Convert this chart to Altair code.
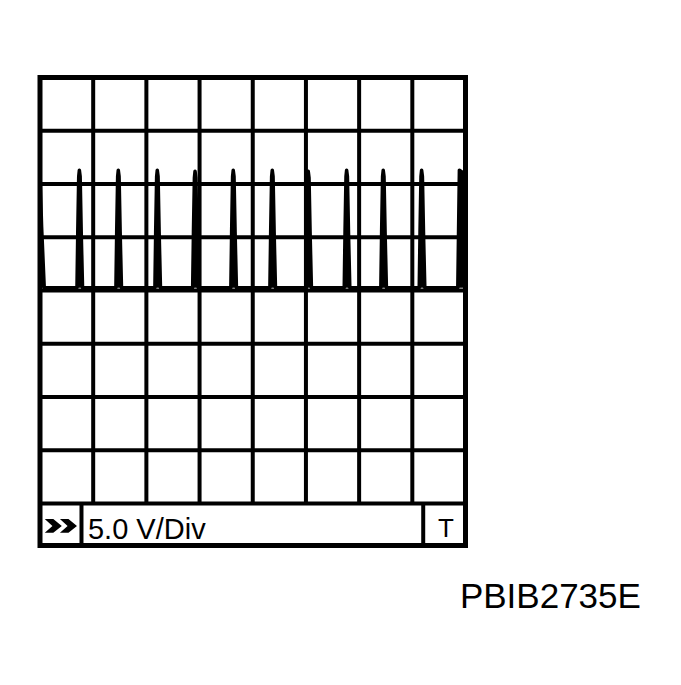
import altair as alt
import pandas as pd

# ---- data (x in time divisions, y in volts, 5 V/div) ----
x_divisions = [1, 2, 3, 4, 5, 6, 7]
y_levels = [-20, -15, -10, -5, 0, 5, 10, 15, 20]
spike_times = [0.74, 1.472, 2.205, 2.915, 3.633, 4.367, 5.043, 5.765, 6.453, 7.175]
spike_peaks = [11.3, 11.3, 11.3, 11.2, 11.3, 11.3, 11.2, 11.3, 11.3, 11.3]
final_rise_time = 7.895
final_peak = 11.3
start_level = 11.0
baseline_v = 0.25

strip_bottom = -23.95          # bottom of the label strip (in volts units)
left_box_edge = 0.78           # ">>" box divider (divisions)
right_box_edge = 7.205         # "T" box divider (divisions)

label_vdiv = "5.0 V/Div"
label_code = "PBIB2735E"

# ---- build trace table ----
rows = [(0.0, start_level), (0.03, 6.0), (0.08, baseline_v)]
for t, p in zip(spike_times, spike_peaks):
    rows += [(t - 0.045, baseline_v), (t - 0.03, 5.5), (t - 0.012, p - 0.6), (t, p),
             (t + 0.015, p - 0.6), (t + 0.035, 5.5), (t + 0.06, baseline_v)]
rows += [(final_rise_time - 0.04, baseline_v), (final_rise_time - 0.01, final_peak),
         (8.0, final_peak - 0.4)]
trace = pd.DataFrame(rows, columns=["t", "v"])
trace["base"] = baseline_v

XS = alt.Scale(domain=[0, 8], nice=False, zero=False)
YS = alt.Scale(domain=[strip_bottom, 20], nice=False, zero=False)


def X(f):
    return alt.X(f, type="quantitative", scale=XS, axis=None)


def Y(f):
    return alt.Y(f, type="quantitative", scale=YS, axis=None)


vgrid = pd.DataFrame({"x": x_divisions, "y0": -20, "y1": 20})
hgrid = pd.DataFrame({"y": y_levels, "x0": 0, "x1": 8})
frame = pd.DataFrame({"x0": [0], "x1": [8], "y0": [strip_bottom], "y1": [20]})
dividers = pd.DataFrame({"x": [left_box_edge, right_box_edge], "y0": strip_bottom, "y1": -20})

vlines = alt.Chart(vgrid).mark_rule(color="black", strokeWidth=4).encode(
    x=X("x"), y=Y("y0"), y2="y1")
hlines = alt.Chart(hgrid).mark_rule(color="black", strokeWidth=4).encode(
    y=Y("y"), x=X("x0"), x2="x1")
divs = alt.Chart(dividers).mark_rule(color="black", strokeWidth=4).encode(
    x=X("x"), y=Y("y0"), y2="y1")
box = alt.Chart(frame).mark_rect(fillOpacity=0, stroke="black", strokeWidth=5).encode(
    x=X("x0"), x2="x1", y=Y("y0"), y2="y1")

area = alt.Chart(trace).mark_area(color="black", opacity=1).encode(
    x=X("t"), y=Y("v"), y2=alt.Y2("base"))
line = alt.Chart(trace).mark_line(color="black", strokeWidth=3.5, strokeJoin="round").encode(
    x=X("t"), y=Y("v"))

chev = pd.DataFrame({"t": [0.25, 0.535], "v": [-22.11, -22.11]})
chevrons = alt.Chart(chev).mark_point(
    shape="M-1,-0.8 L0,-0.8 L1,0 L0,0.8 L-1,0.8 L-0.1,0 Z",
    filled=True, color="black", opacity=1, size=290, strokeWidth=0
).encode(x=X("t"), y=Y("v"))

texts = pd.DataFrame({
    "t": [0.902, 7.63, 7.895],
    "v": [-23.33, -23.15, -29.81],
    "s": [label_vdiv, "T", label_code],
    "kind": ["vdiv", "T", "code"],
})

vdiv = alt.Chart(texts[texts.kind == "vdiv"]).mark_text(
    font="Liberation Sans", fontSize=29, align="left", baseline="alphabetic", color="black"
).encode(x=X("t"), y=Y("v"), text="s")
tlab = alt.Chart(texts[texts.kind == "T"]).mark_text(
    font="Liberation Sans", fontSize=26, align="center", baseline="alphabetic", color="black"
).encode(x=X("t"), y=Y("v"), text="s")
code = alt.Chart(texts[texts.kind == "code"]).mark_text(
    font="Liberation Sans", fontSize=35, align="left", baseline="alphabetic", color="black"
).encode(x=X("t"), y=Y("v"), text="s")

chart = alt.layer(vlines, hlines, divs, area, line, box, chevrons, vdiv, tlab, code).properties(
    width=425.5, height=468,
    autosize=alt.AutoSizeParams(type="none"),
    padding={"left": 32, "top": 69.5, "right": 200, "bottom": 100},
    background="white",
).configure_view(stroke=None)

chart.save("out.html", embed_options={"renderer": "svg", "actions": False})
